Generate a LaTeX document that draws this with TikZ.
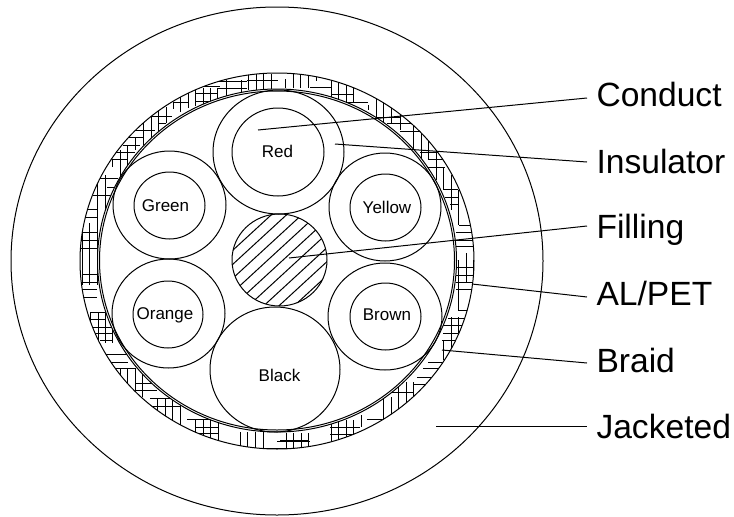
\documentclass[tikz,border=0pt]{standalone}
\usepackage{fontspec}
\setmainfont{Liberation Sans}
\usetikzlibrary{shapes.geometric}
\tikzset{
  disc/.style={ellipse,draw=black,inner sep=0pt,outer sep=0pt},
  cname/.style={font=\fontsize{17}{17}\selectfont,anchor=base,inner sep=0pt},
  lbl/.style={font=\fontsize{33.6}{33.6}\selectfont,anchor=base west,inner sep=0pt},
  lead/.style={draw=black},
  weave/.style={draw=black,line width=0.75pt},
  hatchline/.style={draw=black}
}
\newcommand{\disc}[6]{\node[disc,minimum width=#4pt,minimum height=#5pt] (#1) at (#2,#3) {};}
\begin{document}
\begin{tikzpicture}[x=1pt,y=-1pt,line width=1pt]
\useasboundingbox (0,0) rectangle (734,517);
% jacket
\node[disc,minimum width=532pt,minimum height=508pt] (jacket) at (277,261) {};
% braid
\begin{scope}
\clip (277,261) ellipse [x radius=197, y radius=188];
\foreach \x/\a/\b in {
 82/223/285, 89/223/285, 97/223/285, 97.7/175/225, 105/175/225, 112/159/167,
 120/150/185, 127/145/175,
 135/137/150, 143/123/145, 151/117/138, 158/110/132, 166/107/123, 173/102/109,
 180/95/112, 188/92/108,
 195/88/106, 203/88/106, 210/88/106, 217/88/106, 226/80/100, 241/80/92,
 248/74/90, 256/74/90, 263/74/90, 271/74/90, 285/79/88,
 293/73/88, 300/73/88, 308/73/88, 316/77/81,
 331/80/102, 338/80/102, 346/80/102, 353/80/102, 368/105/110,
 376/97/123, 383/97/123, 391/97/123, 400/108/130, 413/125/160, 421/125/160, 428/125/160,
 436/150/180,
 443/167/190, 451/175/210, 458/190/225, 466/253/282, 458/260/310, 473/260/282,
 451/317/350, 458/317/350, 443/340/360,
 406/382/403, 413/382/403, 398/380/420, 383/397/420, 391/397/420, 361/415/427,
 353/420/442, 346/420/442, 338/420/442, 331/420/442,
 308/433/449, 301/433/449, 293/433/449, 286/433/449,
 90/312/343, 98/312/343, 105/312/343, 112/312/343,
 120/368/397, 127/368/397, 135/368/397, 142/368/397,
 157/398/425, 165/398/425, 172/398/425, 180/398/425,
 195/420/442, 203/420/442, 210/420/442, 218/420/442,
 240/432/450, 247/432/450, 255/432/450, 263/432/450}
  {\draw[weave] (\x,\a) -- (\x,\b);}
\foreach \y/\a/\b in {
 240/80/98, 248/80/98, 232/80/98, 209/88/97, 217/82/98, 195/93/115, 187/107/115, 178/100/118,
 159/112/128, 152/115/135, 145/123/140, 137/127/143, 130/135/155, 123/158/166, 116/150/172, 102/173/188,
 93/195/218, 86/203/220, 101/195/217, 81/218/247, 88/218/247, 80/247/278,
 87/310/332, 94/331/353, 102/333/368, 117/375/400, 123/387/413, 131/400/427,
 152/420/443, 159/428/445, 167/428/445, 189/443/458, 197/445/459, 204/450/459,
 225/459/470, 232/456/475, 240/456/475, 246/456/475,
 267/456/475, 275/456/475, 282/456/475, 289/456/472,
 310/458/470, 318/448/465, 325/443/463, 333/443/458, 340/442/455,
 362/428/443, 368/423/440, 377/417/433, 384/413/428, 392/390/413, 419/367/383,
 427/330/360, 434/330/360, 440/280/308, 441/277/310, 448/263/310,
 274/82/97, 282/82/97, 289/82/97, 297/82/97,
 312/90/105, 319/90/105, 327/92/112, 333/92/112, 340/100/113,
 354/106/127, 362/110/128, 368/115/135, 383/135/157, 390/135/157,
 398/150/180, 406/150/180, 419/187/217, 427/195/218, 433/195/218}
  {\draw[weave] (\a,\y) -- (\b,\y);}
\end{scope}
\node[disc,minimum width=394pt,minimum height=376pt] (braid) at (277,261) {};
% AL/PET
\node[disc,fill=white,minimum width=359pt,minimum height=343pt] (alpet) at (277,260.5) {};
\node[disc,minimum width=355pt,minimum height=339pt] (alpetin) at (277,260.5) {};
% filling hatch
\begin{scope}
\clip (279.5,260) ellipse [x radius=47.5, y radius=46];
\foreach \yy in {251,265,279,293,307,321,335,349,363,372}
  {\draw[hatchline] (220,\yy+11.04) -- (340,\yy-99.36);}
\end{scope}
\node[disc,minimum width=95pt,minimum height=92pt] (filling) at (279.5,260) {};
% wires
\disc{redo}{278.5}{152}{131}{124}{}
\disc{redi}{278}{152}{92}{88}{}
\disc{greeno}{169.5}{205}{113}{108}{}
\disc{greeni}{169.5}{205.5}{71}{67}{}
\disc{yellowo}{385}{207}{112}{108}{}
\disc{yellowi}{385.5}{207.5}{71}{67}{}
\disc{orangeo}{168.5}{313.5}{113}{109}{}
\disc{orangei}{168}{314.5}{70}{67}{}
\disc{browno}{385}{316.5}{114}{107}{}
\disc{browni}{385.5}{316.5}{71}{67}{}
\disc{blacko}{275}{369.5}{130}{125}{}
% wire names
\node[cname] (tred) at (277.5,157) {Red};
\node[cname] (tgreen) at (165.5,211) {Green};
\node[cname] (tyellow) at (387,213) {Yellow};
\node[cname] (torange) at (165,319) {Orange};
\node[cname] (tbrown) at (387,320) {Brown};
\node[cname] (tblack) at (279.5,381) {Black};
% labels
\node[lbl] (lconduct) at (596,106) {Conduct};
\node[lbl] (linsulator) at (596,173) {Insulator};
\node[lbl] (lfilling) at (596,238) {Filling};
\node[lbl] (lalpet) at (596,305) {AL/PET};
\node[lbl] (lbraid) at (596,372) {Braid};
\node[lbl] (ljacketed) at (596,438) {Jacketed};
% leader ends
\coordinate (a1) at (258,130); \coordinate (b1) at (587,98);
\coordinate (a2) at (335,144); \coordinate (b2) at (587,162);
\coordinate (a3) at (289,258); \coordinate (b3) at (587,226);
\coordinate (a4) at (472,284); \coordinate (b4) at (587,297);
\coordinate (a5) at (442,350); \coordinate (b5) at (587,363);
\coordinate (a6) at (436,426.5); \coordinate (b6) at (587,426.5);
\foreach \i in {1,...,6} {\draw[lead] (a\i) -- (b\i);}
\end{tikzpicture}
\end{document}
